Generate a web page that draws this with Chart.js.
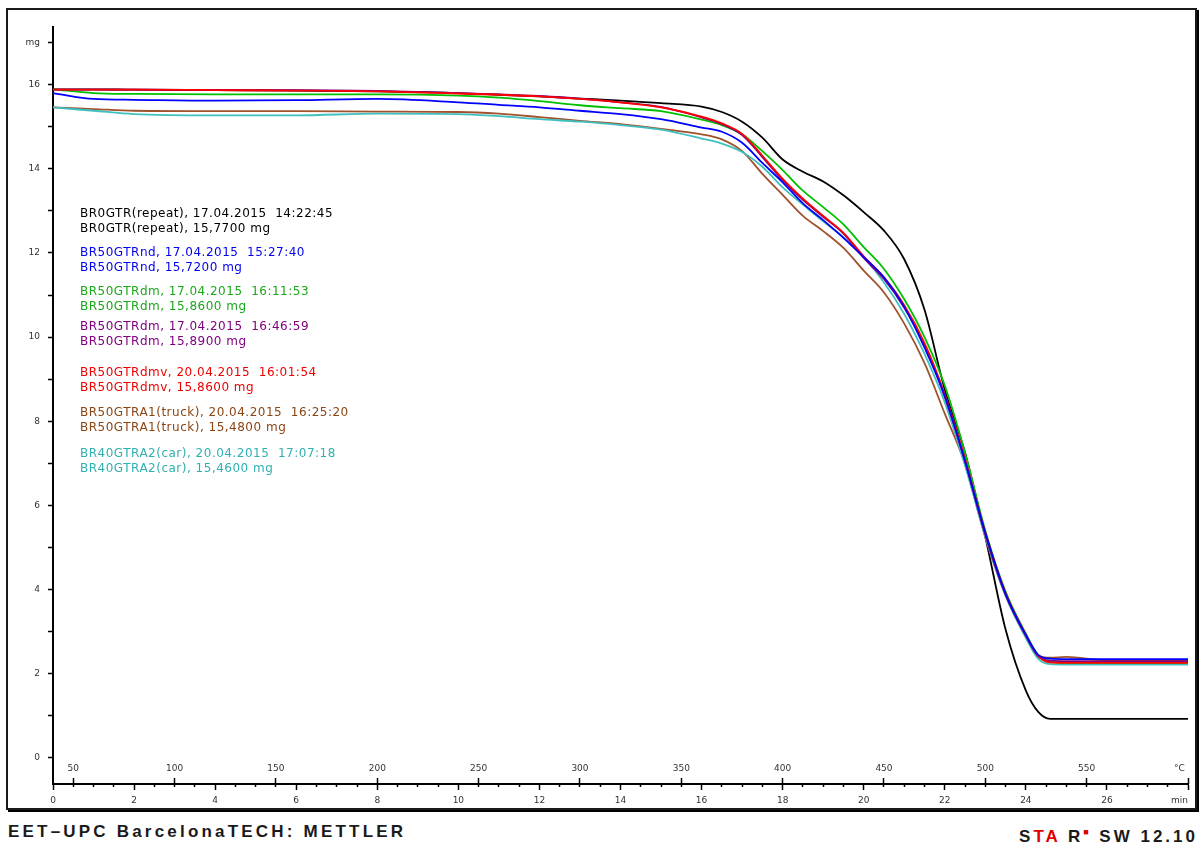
<!DOCTYPE html>
<html>
<head>
<meta charset="utf-8">
<script src="https://cdn.jsdelivr.net/npm/chart.js@4.4.1/dist/chart.umd.min.js"></script>
<style>
  html, body { margin: 0; padding: 0; background: #fff; }
  body { width: 1201px; height: 843px; position: relative; overflow: hidden; }
  #frame { position: absolute; left: 6px; top: 8px; width: 1187px; height: 798px;
           border: 2px solid #1a1a1a; box-shadow: 2px 2px 0 #000; z-index: 0; }
  #chart { position: absolute; left: 0; top: 0; z-index: 1; }
  .leg { position: absolute; left: 80px; font-family: "DejaVu Sans", sans-serif; z-index: 2;
         font-size: 12px; letter-spacing: 0.5px; line-height: 15px; white-space: pre; }
  .foot { position: absolute; top: 822px; font-family: "Liberation Sans", Arial, sans-serif;
          font-weight: bold; font-size: 17px; line-height: 20px; color: #1a1a1a; white-space: pre; }
  #footL { left: 8px; letter-spacing: 3.2px; }
  #footR { right: 3px; letter-spacing: 3px; }
  #footR .red { color: #e00000; }
  #footR sup { font-size: 9px; color: #e00000; }
</style>
</head>
<body>
<div id="frame"></div>
<canvas id="chart" width="1201" height="843"></canvas>
<div id="footL" class="foot">EET–UPC BarcelonaTECH: METTLER</div>
<div id="footR" class="foot">S<span class="red">TA</span> R<sup>■</sup> SW 12.10</div>
<script>
// TGA runs: sample mass (mg) against time (min), heating 20 K/min from 40 °C
const times = [0, 1, 2, 4, 6, 8, 10, 11, 12, 13, 14, 15, 16, 16.5, 17, 17.5, 18, 18.5,
  19, 19.5, 20, 20.5, 21, 21.5, 22, 22.5, 23, 23.5, 24, 24.3, 24.6, 25, 26, 27, 28];

const massRepeat = [15.89, 15.89, 15.88, 15.87, 15.86, 15.84, 15.80, 15.76, 15.72, 15.67, 15.62, 15.56,
  15.48, 15.35, 15.12, 14.74, 14.22, 13.93, 13.70, 13.37, 12.97, 12.53, 11.85, 10.65, 8.75, 7.25,
  5.25, 3.05, 1.60, 1.10, 0.93, 0.93, 0.93, 0.93, 0.93];
const massNd = [15.80, 15.66, 15.64, 15.62, 15.63, 15.66, 15.58, 15.52, 15.46, 15.38, 15.30, 15.18,
  14.98, 14.88, 14.62, 14.14, 13.68, 13.18, 12.78, 12.36, 11.90, 11.42, 10.72, 9.75, 8.60, 7.05,
  5.35, 3.90, 2.92, 2.45, 2.36, 2.35, 2.35, 2.35, 2.35];
const massDm1 = [15.89, 15.80, 15.78, 15.77, 15.77, 15.77, 15.74, 15.69, 15.61, 15.51, 15.44, 15.37,
  15.17, 15.04, 14.82, 14.42, 13.97, 13.48, 13.09, 12.68, 12.14, 11.62, 10.90, 10.00, 8.85, 7.25,
  5.40, 3.95, 2.95, 2.45, 2.28, 2.26, 2.26, 2.26, 2.26];
const massDm2 = [15.88, 15.88, 15.88, 15.87, 15.87, 15.85, 15.80, 15.77, 15.73, 15.67, 15.58, 15.47,
  15.22, 15.06, 14.80, 14.28, 13.73, 13.26, 12.86, 12.46, 11.88, 11.38, 10.70, 9.80, 8.58, 7.05,
  5.30, 3.88, 2.90, 2.42, 2.31, 2.30, 2.30, 2.30, 2.30];
const massDmv = [15.88, 15.88, 15.88, 15.87, 15.86, 15.84, 15.79, 15.76, 15.72, 15.66, 15.58, 15.46,
  15.24, 15.08, 14.83, 14.31, 13.76, 13.29, 12.88, 12.48, 11.92, 11.42, 10.76, 9.86, 8.64, 7.10,
  5.35, 3.92, 2.93, 2.43, 2.27, 2.26, 2.26, 2.26, 2.26];
const massTruck = [15.46, 15.42, 15.38, 15.37, 15.37, 15.36, 15.35, 15.31, 15.23, 15.14, 15.06, 14.95,
  14.82, 14.70, 14.42, 13.88, 13.38, 12.88, 12.52, 12.12, 11.58, 11.06, 10.32, 9.38, 8.18, 6.98,
  5.25, 3.86, 2.88, 2.44, 2.38, 2.40, 2.32, 2.32, 2.32];
const massCar = [15.46, 15.38, 15.30, 15.27, 15.27, 15.31, 15.30, 15.25, 15.18, 15.12, 15.04, 14.93,
  14.72, 14.60, 14.40, 14.05, 13.56, 13.15, 12.75, 12.37, 11.90, 11.30, 10.55, 9.60, 8.45, 6.95,
  5.25, 3.85, 2.85, 2.36, 2.23, 2.22, 2.22, 2.22, 2.22];

const runNames = ['BR0GTR(repeat)', 'BR50GTRnd', 'BR50GTRdm', 'BR50GTRdm', 'BR50GTRdmv',
  'BR50GTRA1(truck)', 'BR40GTRA2(car)'];
const runStamps = ['17.04.2015  14:22:45', '17.04.2015  15:27:40', '17.04.2015  16:11:53',
  '17.04.2015  16:46:59', '20.04.2015  16:01:54', '20.04.2015  16:25:20', '20.04.2015  17:07:18'];
const sampleMasses = ['15,7700', '15,7200', '15,8600', '15,8900', '15,8600', '15,4800', '15,4600'];
const runValues = [massRepeat, massNd, massDm1, massDm2, massDmv, massTruck, massCar];

const timeTicks = [0, 2, 4, 6, 8, 10, 12, 14, 16, 18, 20, 22, 24, 26, 28];
const timeLabels = ['0', '2', '4', '6', '8', '10', '12', '14', '16', '18', '20', '22', '24', '26', 'min'];
const tempTicks = [50, 100, 150, 200, 250, 300, 350, 400, 450, 500, 550, 600];
const tempLabels = ['50', '100', '150', '200', '250', '300', '350', '400', '450', '500', '550', '°C'];
const massTicks = [0, 2, 4, 6, 8, 10, 12, 14, 16, 17];
const massLabels = ['0', '2', '4', '6', '8', '10', '12', '14', '16', 'mg'];

// styling
const lineColors = ['#000000', '#0000ff', '#00c000', '#800080', '#ff0000', '#a0522d', '#40bfbf'];
const textColors = ['#000000', '#0000ee', '#1aa81a', '#800080', '#ee0000', '#8b4513', '#30b0b0'];
const drawOrder = [6, 0, 3, 2, 1, 5, 4];
const legendTops = [206, 245, 284, 319, 365, 405, 446];

const Y_MIN = -0.62, Y_MAX = 17.37;
const T_MIN = 40, T_MAX = 600;

runNames.forEach((name, i) => {
  const d = document.createElement('div');
  d.className = 'leg';
  d.style.top = legendTops[i] + 'px';
  d.style.color = textColors[i];
  d.textContent = name + ', ' + runStamps[i] + '\n' + name + ', ' + sampleMasses[i] + ' mg';
  document.body.appendChild(d);
});

const half = [];
for (let t = 0.5; t < 28; t += 0.5) if (t % 2 !== 0) half.push(t);

const tickFont = { family: 'DejaVu Sans', size: 9 };

function setTicks(values) {
  return scale => { scale.ticks = values.map(v => ({ value: v })); };
}

// unit labels sit at the axis end; pad them so they stay inside the frame
function axisLabel(ticks, labels) {
  return v => {
    const k = ticks.indexOf(v);
    return k === ticks.length - 1 ? labels[k] + '      ' : labels[k];
  };
}

new Chart(document.getElementById('chart'), {
  type: 'line',
  data: {
    datasets: runValues.map((vals, i) => ({
      label: runNames[i],
      data: times.map((t, k) => ({ x: t, y: vals[k] })),
      borderColor: lineColors[i],
      borderWidth: 1.8,
      pointRadius: 0,
      fill: false,
      cubicInterpolationMode: 'monotone',
      order: drawOrder[i]
    }))
  },
  options: {
    responsive: false,
    animation: false,
    layout: { padding: { left: 0, right: 13, top: 27, bottom: 0 } },
    plugins: { legend: { display: false }, tooltip: { enabled: false } },
    scales: {
      x: {
        type: 'linear', min: 0, max: 28, position: 'bottom',
        afterBuildTicks: setTicks(timeTicks),
        afterFit: s => { s.height = 59; s.paddingLeft = 0; s.paddingRight = 0; },
        ticks: {
          callback: axisLabel(timeTicks, timeLabels),
          autoSkip: false, maxRotation: 0, padding: 5, color: '#333', font: tickFont
        },
        grid: { drawOnChartArea: false, tickLength: 6, tickColor: '#000', tickWidth: 1.5 },
        border: { color: '#000', width: 2 }
      },
      xHalf: {
        type: 'linear', min: 0, max: 28, position: { y: Y_MIN },
        afterBuildTicks: setTicks(half),
        ticks: { display: false },
        grid: { drawOnChartArea: false, tickLength: 3, tickColor: '#000', tickWidth: 1.5 },
        border: { display: false }
      },
      xTemp: {
        type: 'linear', min: T_MIN, max: T_MAX, position: { y: Y_MIN },
        afterBuildTicks: setTicks(tempTicks),
        afterFit: s => { s.paddingLeft = 0; s.paddingRight = 0; },
        ticks: {
          callback: axisLabel(tempTicks, tempLabels),
          autoSkip: false, maxRotation: 0, padding: -15, color: '#333', font: tickFont
        },
        grid: { drawOnChartArea: false, tickLength: -6, tickColor: '#000', tickWidth: 1.5 },
        border: { display: false }
      },
      y: {
        type: 'linear', min: Y_MIN, max: Y_MAX,
        afterBuildTicks: setTicks([0, 1, 2, 3, 4, 5, 6, 7, 8, 9, 10, 11, 12, 13, 14, 15, 16, 17]),
        afterFit: s => { s.width = 53; },
        ticks: {
          callback: v => { const k = massTicks.indexOf(v); return k < 0 ? '' : massLabels[k]; },
          autoSkip: false, padding: 8, color: '#333', font: tickFont
        },
        grid: { drawOnChartArea: false, tickLength: 5, tickColor: '#000', tickWidth: 1.5 },
        border: { color: '#000', width: 2 }
      }
    }
  }
});
</script>
</body>
</html>
